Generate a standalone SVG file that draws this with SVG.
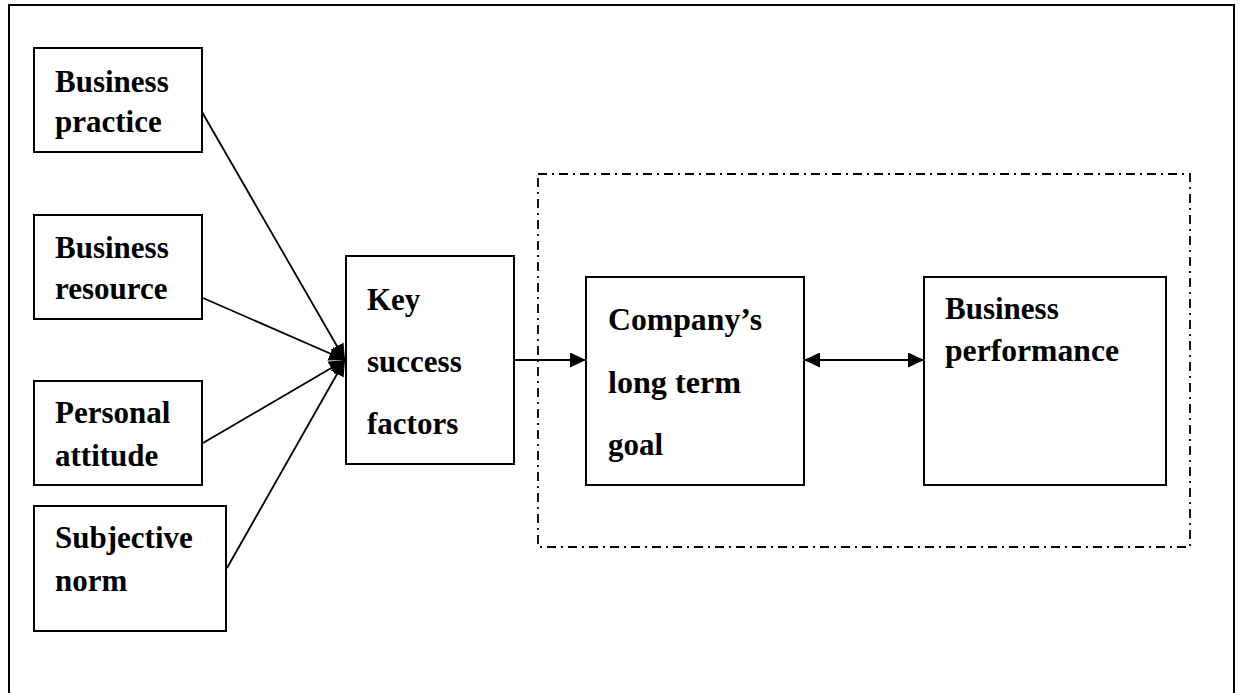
<svg xmlns="http://www.w3.org/2000/svg" width="1242" height="693" viewBox="0 0 1242 693">
  <defs>
    <marker id="arrow" viewBox="0 0 16 15" refX="16" refY="7.5" markerWidth="16" markerHeight="15" markerUnits="userSpaceOnUse" orient="auto-start-reverse">
      <path d="M0,0 L16,7.5 L0,15 Z" fill="#000"/>
    </marker>
    <style>
      .box { fill: #fff; stroke: #000; stroke-width: 2; }
      .frame { fill: none; stroke: #000; stroke-width: 2; }
      .group { fill: none; stroke: #000; stroke-width: 1.8; stroke-dasharray: 9 5 2 5; }
      .conn { fill: none; stroke: #000; stroke-width: 1.8; }
      .lbl { font-family: "Liberation Serif", "Times New Roman", serif; font-weight: bold; font-size: 31px; fill: #000; }
    </style>
  </defs>

  <rect width="1242" height="693" fill="#fff"/>
  <!-- outer frame, open at the bottom -->
  <path class="frame" d="M9,700 L9,5 L1234,5 L1234,700"/>

  <!-- dash-dot grouping around the goal and performance -->
  <rect class="group" x="538" y="174" width="652" height="373"/>

  <g id="business-practice">
    <rect class="box" x="34" y="48" width="168" height="104"/>
    <text class="lbl" x="55" y="92">Business</text>
    <text class="lbl" x="55" y="132">practice</text>
  </g>
  <g id="business-resource">
    <rect class="box" x="34" y="215" width="168" height="104"/>
    <text class="lbl" x="55" y="258">Business</text>
    <text class="lbl" x="55" y="299">resource</text>
  </g>
  <g id="personal-attitude">
    <rect class="box" x="34" y="381" width="168" height="104"/>
    <text class="lbl" x="55" y="423">Personal</text>
    <text class="lbl" x="55" y="466">attitude</text>
  </g>
  <g id="subjective-norm">
    <rect class="box" x="34" y="506" width="192" height="125"/>
    <text class="lbl" x="55" y="548">Subjective</text>
    <text class="lbl" x="55" y="591">norm</text>
  </g>
  <g id="key-success-factors">
    <rect class="box" x="346" y="256" width="168" height="208"/>
    <text class="lbl" x="367" y="310">Key</text>
    <text class="lbl" x="367" y="372">success</text>
    <text class="lbl" x="367" y="434">factors</text>
  </g>
  <g id="long-term-goal">
    <rect class="box" x="586" y="277" width="218" height="208"/>
    <text class="lbl" x="608" y="330" textLength="154" lengthAdjust="spacingAndGlyphs">Company’s</text>
    <text class="lbl" x="608" y="393" textLength="133" lengthAdjust="spacingAndGlyphs">long term</text>
    <text class="lbl" x="608" y="455">goal</text>
  </g>
  <g id="business-performance">
    <rect class="box" x="924" y="277" width="242" height="208"/>
    <text class="lbl" x="945" y="319">Business</text>
    <text class="lbl" x="945" y="361" textLength="174" lengthAdjust="spacingAndGlyphs">performance</text>
  </g>

  <g id="connectors">
    <line class="conn" x1="202" y1="112" x2="345" y2="360" marker-end="url(#arrow)"/>
    <line class="conn" x1="203" y1="298" x2="345" y2="360" marker-end="url(#arrow)"/>
    <line class="conn" x1="203" y1="443" x2="345" y2="360" marker-end="url(#arrow)"/>
    <line class="conn" x1="227" y1="568" x2="345" y2="360" marker-end="url(#arrow)"/>
    <line class="conn" x1="514" y1="360" x2="586" y2="360" marker-end="url(#arrow)"/>
    <line class="conn" x1="804" y1="360" x2="924" y2="360" marker-start="url(#arrow)" marker-end="url(#arrow)"/>
  </g>
</svg>
